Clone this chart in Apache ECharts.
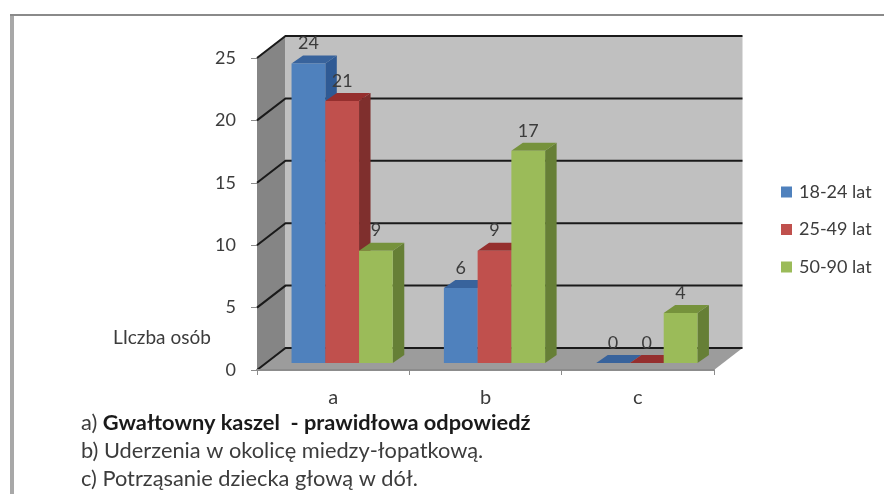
<!DOCTYPE html>
<html lang="pl">
<head>
<meta charset="utf-8">
<title>Liczba osób</title>
<style>html,body{margin:0;padding:0;background:#fff}#chart{width:884px;height:494px}</style>
<script src="https://cdn.jsdelivr.net/npm/echarts@6/dist/echarts.min.js"></script>
</head>
<body>
<div id="chart"></div>
<script>
// Answers per age group for the three options a, b, c
const categories = ['a', 'b', 'c'];
const ages18to24 = [24, 6, 0];
const ages25to49 = [21, 9, 0];
const ages50to90 = [9, 17, 4];
const valueTicks = [0, 5, 10, 15, 20, 25];
const groupNames = ['18-24 lat', '25-49 lat', '50-90 lat'];

const FONT = 'Lato, "Open Sans", sans-serif';
const TEXT = '#3c3c3c';

// Oblique projection of the chart box, in pixels
const WALL_DX = 28.5, WALL_DY = -22;   // depth of the whole box
const BAR_SHIFT_X = 9, BAR_SHIFT_Y = -7; // front of the bars inside the box
const BAR_DX = 11.5, BAR_DY = -8;      // depth of a single bar
const BAR_SHARE = 0.2215;              // bar width as a share of a category

const facePalette = [
  { front: '#4f81bd', top: '#38639c', side: '#2f5a94' },
  { front: '#c0504d', top: '#952f2e', side: '#7f2f2d' },
  { front: '#9bbb59', top: '#76923c', side: '#667f36' }
];

const poly = (points, fill) => ({ type: 'polygon', shape: { points }, style: { fill } });

// Side wall, back wall and floor of the box
function renderWalls(params, api) {
  const r = params.coordSys;
  const b = r.y + r.height, R = r.x + r.width;
  return {
    type: 'group',
    children: [
      poly([[r.x, r.y], [r.x + WALL_DX, r.y + WALL_DY], [r.x + WALL_DX, b + WALL_DY], [r.x, b]], '#858585'),
      poly([[r.x + WALL_DX, r.y + WALL_DY], [R + WALL_DX, r.y + WALL_DY], [R + WALL_DX, b + WALL_DY], [r.x + WALL_DX, b + WALL_DY]], '#c0c0c0'),
      poly([[r.x, b], [R, b], [R + WALL_DX, b + WALL_DY], [r.x + WALL_DX, b + WALL_DY]], '#9c9c9c')
    ]
  };
}

// One gridline per tick, running along the side wall and the back wall
function renderGridline(params, api) {
  const r = params.coordSys;
  const y = api.coord([0, api.value(1)])[1];
  const style = { stroke: '#1a1a1a', lineWidth: 2, fill: 'none' };
  return {
    type: 'polyline',
    shape: { points: [[r.x, y], [r.x + WALL_DX, y + WALL_DY], [r.x + r.width + WALL_DX, y + WALL_DY]] },
    style
  };
}

// A prism for one bar, with its value printed above the front face
function barRenderer(groupIndex) {
  const colors = facePalette[groupIndex];
  return function (params, api) {
    const value = api.value(1);
    const base = api.coord([api.value(0), 0]);
    const top = api.coord([api.value(0), value]);
    const w = api.size([1, 0])[0] * BAR_SHARE;
    const x0 = base[0] + BAR_SHIFT_X + (groupIndex - 1.5) * w;
    const x1 = x0 + w;
    const yb = base[1] + BAR_SHIFT_Y;
    const yt = top[1] + BAR_SHIFT_Y;
    const children = [
      poly([[x1, yb], [x1 + BAR_DX, yb + BAR_DY], [x1 + BAR_DX, yt + BAR_DY], [x1, yt]], colors.side),
      poly([[x0, yt], [x1, yt], [x1 + BAR_DX, yt + BAR_DY], [x0 + BAR_DX, yt + BAR_DY]], colors.top),
      poly([[x0, yb], [x1, yb], [x1, yt], [x0, yt]], colors.front),
      {
        type: 'text',
        style: {
          text: String(value), x: (x0 + x1) / 2, y: yt - 20,
          align: 'center', verticalAlign: 'middle',
          font: '18px ' + FONT, fill: TEXT
        }
      }
    ];
    return { type: 'group', children };
  };
}

const perGroup = [ages18to24, ages25to49, ages50to90];

const chart = echarts.init(document.getElementById('chart'), null, { renderer: 'canvas' });
chart.setOption({
  animation: false,
  backgroundColor: '#ffffff',
  grid: { left: 257, top: 58, width: 457, height: 312 },
  xAxis: {
    type: 'category',
    data: categories,
    z: 10,
    axisLine: { lineStyle: { color: '#8c8c8c', width: 2 } },
    axisTick: { show: true, length: 5, alignWithLabel: false, lineStyle: { color: '#8c8c8c' } },
    axisLabel: { margin: 18, fontFamily: FONT, fontSize: 20, color: TEXT },
    splitLine: { show: false }
  },
  yAxis: {
    type: 'value',
    min: 0,
    max: 25,
    interval: 5,
    z: 10,
    axisLine: { show: false },
    axisTick: { show: true, length: 6, lineStyle: { color: '#8c8c8c' } },
    axisLabel: { margin: 21, fontFamily: FONT, fontSize: 18, color: TEXT, padding: [2, 0, 0, 0] },
    splitLine: { show: false }
  },
  legend: {
    orient: 'vertical',
    left: 781,
    top: 183,
    padding: 0,
    itemWidth: 11,
    itemHeight: 11,
    itemGap: 19.5,
    icon: 'rect',
    data: groupNames,
    textStyle: { fontFamily: FONT, fontSize: 18, color: TEXT, padding: [0, 0, 0, 2] },
    selectedMode: false
  },
  series: [
    { name: 'walls', type: 'custom', renderItem: renderWalls, data: [[0, 0]], z: 1, silent: true },
    { name: 'gridlines', type: 'custom', renderItem: renderGridline, encode: { x: 0, y: 1 },
      data: valueTicks.map(v => [0, v]), z: 2, silent: true },
    ...groupNames.map((name, i) => ({
      name,
      type: 'custom',
      renderItem: barRenderer(i),
      encode: { x: 0, y: 1 },
      itemStyle: { color: facePalette[i].front },
      data: perGroup[i].map((v, c) => [c, v]),
      z: 3 + i,
      silent: true
    }))
  ],
  graphic: [
    // Page frame along the left and top edges
    { type: 'rect', left: 10, top: 14, shape: { width: 4, height: 480 }, style: { fill: '#a8a8a8' }, z: 20 },
    { type: 'rect', left: 10, top: 14, shape: { width: 874, height: 2 }, style: { fill: '#8a8a8a' }, z: 20 },
    { type: 'text', left: 113, top: 328, z: 20,
      style: { text: 'LIczba osób', font: '19px ' + FONT, fill: TEXT } },
    { type: 'text', left: 81, top: 412, z: 20,
      style: {
        text: '{n|a) }{b|Gwałtowny kaszel  - prawidłowa odpowiedź}',
        rich: {
          n: { font: '21.8px ' + FONT, fill: TEXT },
          b: { font: 'bold 21.8px ' + FONT, fill: '#1a1a1a' }
        }
      } },
    { type: 'text', left: 81, top: 440, z: 20,
      style: { text: 'b) Uderzenia w okolicę miedzy-łopatkową.', font: '21.8px ' + FONT, fill: TEXT } },
    { type: 'text', left: 81, top: 468, z: 20,
      style: { text: 'c) Potrząsanie dziecka głową w dół.', font: '21.8px ' + FONT, fill: TEXT } }
  ]
});
</script>
</body>
</html>
